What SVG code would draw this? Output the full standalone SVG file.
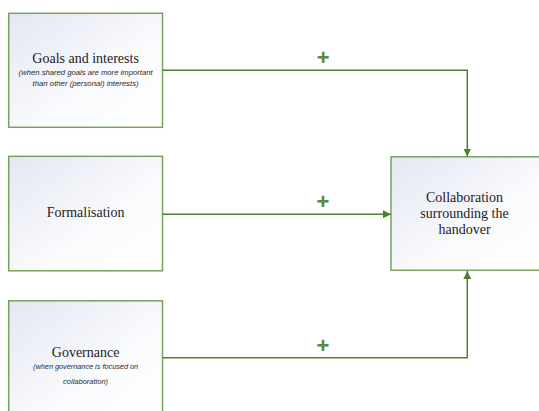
<svg xmlns="http://www.w3.org/2000/svg" width="539" height="411" viewBox="0 0 539 411">
<defs>
<linearGradient id="g" x1="0" y1="0" x2="1" y2="1">
<stop offset="0" stop-color="#e4e7f3"/>
<stop offset="0.6" stop-color="#fafbfd"/>
<stop offset="1" stop-color="#ffffff"/>
</linearGradient>
<marker id="arr" viewBox="0 0 10 10" refX="10" refY="5" markerWidth="8" markerHeight="8" markerUnits="userSpaceOnUse" orient="auto">
<path d="M0,0 L10,5 L0,10 Z" fill="#4f7f31"/>
</marker>
<style>
.box{fill:url(#g);stroke:#79a35c;stroke-width:1.5}
.t{font-size:14px;fill:#222;text-anchor:middle}
.s{font-size:7.4px;font-style:italic;fill:#2a2a2a;text-anchor:middle}
.c{fill:none;stroke:#4f7f31;stroke-width:1.5}
.p{font-size:22px;font-weight:bold;fill:#5a8a3a;text-anchor:middle}
</style>
</defs>
<g id="goals">
<rect class="box" x="8.7" y="13.3" width="153.8" height="114"/>
<text class="t" font-family="Liberation Serif, serif" x="85.6" y="63">Goals and interests</text>
<text class="s" font-family="Liberation Sans, sans-serif" x="85.6" y="75" textLength="134" lengthAdjust="spacingAndGlyphs">(when shared goals are more important</text>
<text class="s" font-family="Liberation Sans, sans-serif" x="85.6" y="85.5" textLength="106" lengthAdjust="spacingAndGlyphs">than other (personal) interests)</text>
</g>
<g id="formalisation">
<rect class="box" x="8.7" y="156.3" width="153.8" height="114.5"/>
<text class="t" font-family="Liberation Serif, serif" x="85.6" y="217">Formalisation</text>
</g>
<g id="governance">
<rect class="box" x="8.7" y="300.8" width="153.8" height="120"/>
<text class="t" font-family="Liberation Serif, serif" x="85.6" y="357">Governance</text>
<text class="s" font-family="Liberation Sans, sans-serif" x="85.6" y="369" textLength="105" lengthAdjust="spacingAndGlyphs">(when governance is focused on</text>
<text class="s" font-family="Liberation Sans, sans-serif" x="85.6" y="384" textLength="45" lengthAdjust="spacingAndGlyphs">collaboration)</text>
</g>
<g id="collaboration">
<rect class="box" x="391" y="156.8" width="152" height="113.5"/>
<text class="t" font-family="Liberation Serif, serif" x="464.5" y="202">Collaboration</text>
<text class="t" font-family="Liberation Serif, serif" x="464.5" y="218">surrounding the</text>
<text class="t" font-family="Liberation Serif, serif" x="464.5" y="234">handover</text>
</g>
<g id="connectors">
<path class="c" d="M162.5,70.3 H467.3 V156.5" marker-end="url(#arr)"/>
<path class="c" d="M162.5,214.3 H391" marker-end="url(#arr)"/>
<path class="c" d="M162.5,357.7 H467.3 V271" marker-end="url(#arr)"/>
<text class="p" font-family="Liberation Sans, sans-serif" x="323.2" y="65">+</text>
<text class="p" font-family="Liberation Sans, sans-serif" x="323" y="209.4">+</text>
<text class="p" font-family="Liberation Sans, sans-serif" x="323" y="352.7">+</text>
</g>
</svg>
